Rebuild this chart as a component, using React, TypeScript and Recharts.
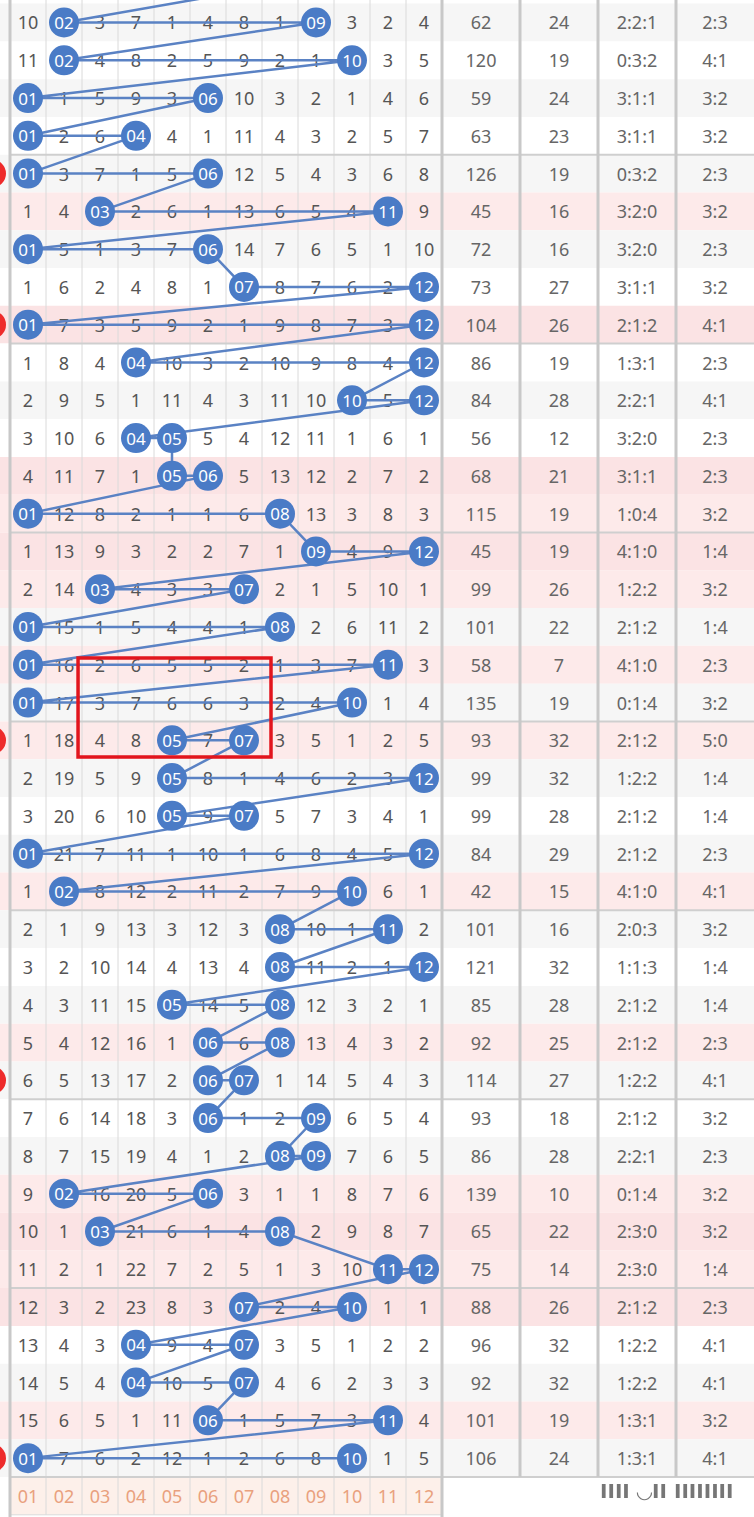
import React from "react";
import {
  ScatterChart,
  Scatter,
  XAxis,
  YAxis,
  ReferenceArea,
  ReferenceLine,
} from "recharts";

const FONT = "'Noto Sans', 'Open Sans', sans-serif";

const numbers = ["01", "02", "03", "04", "05", "06", "07", "08", "09", "10", "11", "12"];

// missed-draw counts per row, 0 = number drawn in that row
const omissions = [
  [10, 0, 3, 7, 1, 4, 8, 1, 0, 3, 2, 4],
  [11, 0, 4, 8, 2, 5, 9, 2, 1, 0, 3, 5],
  [0, 1, 5, 9, 3, 0, 10, 3, 2, 1, 4, 6],
  [0, 2, 6, 0, 4, 1, 11, 4, 3, 2, 5, 7],
  [0, 3, 7, 1, 5, 0, 12, 5, 4, 3, 6, 8],
  [1, 4, 0, 2, 6, 1, 13, 6, 5, 4, 0, 9],
  [0, 5, 1, 3, 7, 0, 14, 7, 6, 5, 1, 10],
  [1, 6, 2, 4, 8, 1, 0, 8, 7, 6, 2, 0],
  [0, 7, 3, 5, 9, 2, 1, 9, 8, 7, 3, 0],
  [1, 8, 4, 0, 10, 3, 2, 10, 9, 8, 4, 0],
  [2, 9, 5, 1, 11, 4, 3, 11, 10, 0, 5, 0],
  [3, 10, 6, 0, 0, 5, 4, 12, 11, 1, 6, 1],
  [4, 11, 7, 1, 0, 0, 5, 13, 12, 2, 7, 2],
  [0, 12, 8, 2, 1, 1, 6, 0, 13, 3, 8, 3],
  [1, 13, 9, 3, 2, 2, 7, 1, 0, 4, 9, 0],
  [2, 14, 0, 4, 3, 3, 0, 2, 1, 5, 10, 1],
  [0, 15, 1, 5, 4, 4, 1, 0, 2, 6, 11, 2],
  [0, 16, 2, 6, 5, 5, 2, 1, 3, 7, 0, 3],
  [0, 17, 3, 7, 6, 6, 3, 2, 4, 0, 1, 4],
  [1, 18, 4, 8, 0, 7, 0, 3, 5, 1, 2, 5],
  [2, 19, 5, 9, 0, 8, 1, 4, 6, 2, 3, 0],
  [3, 20, 6, 10, 0, 9, 0, 5, 7, 3, 4, 1],
  [0, 21, 7, 11, 1, 10, 1, 6, 8, 4, 5, 0],
  [1, 0, 8, 12, 2, 11, 2, 7, 9, 0, 6, 1],
  [2, 1, 9, 13, 3, 12, 3, 0, 10, 1, 0, 2],
  [3, 2, 10, 14, 4, 13, 4, 0, 11, 2, 1, 0],
  [4, 3, 11, 15, 0, 14, 5, 0, 12, 3, 2, 1],
  [5, 4, 12, 16, 1, 0, 6, 0, 13, 4, 3, 2],
  [6, 5, 13, 17, 2, 0, 0, 1, 14, 5, 4, 3],
  [7, 6, 14, 18, 3, 0, 1, 2, 0, 6, 5, 4],
  [8, 7, 15, 19, 4, 1, 2, 0, 0, 7, 6, 5],
  [9, 0, 16, 20, 5, 0, 3, 1, 1, 8, 7, 6],
  [10, 1, 0, 21, 6, 1, 4, 0, 2, 9, 8, 7],
  [11, 2, 1, 22, 7, 2, 5, 1, 3, 10, 0, 0],
  [12, 3, 2, 23, 8, 3, 0, 2, 4, 0, 1, 1],
  [13, 4, 3, 0, 9, 4, 0, 3, 5, 1, 2, 2],
  [14, 5, 4, 0, 10, 5, 0, 4, 6, 2, 3, 3],
  [15, 6, 5, 1, 11, 0, 1, 5, 7, 3, 0, 4],
  [0, 7, 6, 2, 12, 1, 2, 6, 8, 0, 1, 5],
];

const sums = [62, 120, 59, 63, 126, 45, 72, 73, 104, 86, 84, 56, 68, 115, 45, 99, 101, 58, 135, 93, 99, 99, 84, 42, 101, 121, 85, 92, 114, 93, 86, 139, 65, 75, 88, 96, 92, 101, 106];
const spans = [24, 19, 24, 23, 19, 16, 16, 27, 26, 19, 28, 12, 21, 19, 19, 26, 22, 7, 19, 32, 32, 28, 29, 15, 16, 32, 28, 25, 27, 18, 28, 10, 22, 14, 26, 32, 32, 19, 24];
const zoneRatio = ["2:2:1", "0:3:2", "3:1:1", "3:1:1", "0:3:2", "3:2:0", "3:2:0", "3:1:1", "2:1:2", "1:3:1", "2:2:1", "3:2:0", "3:1:1", "1:0:4", "4:1:0", "1:2:2", "2:1:2", "4:1:0", "0:1:4", "2:1:2", "1:2:2", "2:1:2", "2:1:2", "4:1:0", "2:0:3", "1:1:3", "2:1:2", "2:1:2", "1:2:2", "2:1:2", "2:2:1", "0:1:4", "2:3:0", "2:3:0", "2:1:2", "1:2:2", "1:2:2", "1:3:1", "1:3:1"];
const oddEven = ["2:3", "4:1", "3:2", "3:2", "2:3", "3:2", "2:3", "3:2", "4:1", "2:3", "4:1", "2:3", "2:3", "3:2", "1:4", "3:2", "1:4", "2:3", "3:2", "5:0", "1:4", "1:4", "2:3", "4:1", "3:2", "1:4", "1:4", "2:3", "4:1", "3:2", "2:3", "3:2", "3:2", "1:4", "2:3", "4:1", "4:1", "3:2", "4:1"];

const pinkRows = [6, 9, 13, 14, 15, 16, 18, 20, 24, 28, 32, 33, 34, 35, 38];
const redDotRows = [5, 9, 20, 29, 39];
// last ball of the row above the visible part
const prevBall = 8;

// layout
const W = 754;
const H = 1517;
const CELL = 36;
const STAT_W = 78 / CELL;
const ROW_H = 37.78;
const X0 = 0.5 - 10 / CELL;
const X1 = 12.5 + 4 * STAT_W;
const Y0 = -0.5 - 3.6 / ROW_H;
const Y1 = Y0 + H / ROW_H;
const N = omissions.length;
const statX = (k: number) => 12.5 + STAT_W * (k + 0.5);

const missData: any[] = [];
const ballData: any[] = [{ x: prevBall, y: -1 }];
omissions.forEach((row, r) => {
  row.forEach((v, i) => {
    if (v === 0) ballData.push({ x: i + 1, y: r });
    else missData.push({ x: i + 1, y: r, t: String(v) });
  });
});
const statData: any[] = [];
[sums, spans, zoneRatio, oddEven].forEach((col, k) =>
  col.forEach((v, r) => statData.push({ x: statX(k), y: r, t: String(v) }))
);
const footData = numbers.map((n, i) => ({ x: i + 1, y: N, t: n }));
const redData = redDotRows.map((r) => ({ x: 0, y: r - 1 }));

const rowFill = (r: number) => {
  const odd = (r + 1) % 2 === 1;
  if (pinkRows.includes(r + 1)) return odd ? "#fbe3e4" : "#fdeaea";
  return odd ? "#f6f6f6" : "#ffffff";
};

const textShape = (fill: string, size: number) => (p: any) => (
  <text
    x={p.cx}
    y={p.cy}
    textAnchor="middle"
    dominantBaseline="central"
    fontSize={size}
    fontFamily={FONT}
    fill={fill}
  >
    {p.payload.t}
  </text>
);

const BallShape = (p: any) => {
  if (p.payload.y < 0) return <g />;
  return (
    <g>
      <circle cx={p.cx} cy={p.cy} r={15} fill="#4a7bc6" />
      <text
        x={p.cx}
        y={p.cy}
        textAnchor="middle"
        dominantBaseline="central"
        fontSize={17}
        fontFamily={FONT}
        fill="#ffffff"
      >
        {numbers[p.payload.x - 1]}
      </text>
    </g>
  );
};

const RedDot = (p: any) => <circle cx={p.cx} cy={p.cy} r={14} fill="#ee2b2b" />;

export default function App() {
  const groupLines = [3.5, 8.5, 13.5, 18.5, 23.5, 28.5, 33.5, 38.5];
  return (
    <div style={{ width: W, height: H, overflow: "hidden", position: "relative", background: "#fff" }}>
      <style>{"body{margin:0}"}</style>
      <ScatterChart width={W} height={H} margin={{ top: 0, right: 0, bottom: 0, left: 0 }}>
        <XAxis type="number" dataKey="x" domain={[X0, X1]} hide allowDataOverflow />
        <YAxis type="number" dataKey="y" domain={[Y0, Y1]} reversed hide allowDataOverflow />

        {omissions.map((_, r) => (
          <ReferenceArea
            key={"bg" + r}
            x1={X0}
            x2={X1}
            y1={r - 0.5}
            y2={r + 0.5}
            fill={rowFill(r)}
            fillOpacity={1}
            stroke="none"
            ifOverflow="visible"
            zIndex={-200}
          />
        ))}
        <ReferenceArea
          x1={0.5}
          x2={12.5}
          y1={N - 0.5}
          y2={N + 0.5}
          fill="#fdf0ea"
          fillOpacity={1}
          stroke="none"
          ifOverflow="visible"
          zIndex={-200}
        />

        {numbers.slice(1).map((_, i) => (
          <ReferenceLine
            key={"v" + i}
            segment={[{ x: i + 1.5, y: Y0 }, { x: i + 1.5, y: N + 0.5 }]}
            stroke="#dadada"
            strokeWidth={1}
            ifOverflow="visible"
          />
        ))}
        {groupLines.map((y) => (
          <ReferenceLine
            key={"h" + y}
            segment={[{ x: 0.5, y }, { x: X1, y }]}
            stroke="#cfcfcf"
            strokeWidth={2}
            ifOverflow="visible"
          />
        ))}
        <ReferenceLine
          segment={[{ x: 0.5, y: N + 0.5 }, { x: 12.5, y: N + 0.5 }]}
          stroke="#dadada"
          strokeWidth={1}
          ifOverflow="visible"
        />
        {[1, 2, 3].map((k) => (
          <ReferenceLine
            key={"s" + k}
            segment={[{ x: 12.5 + k * STAT_W, y: Y0 }, { x: 12.5 + k * STAT_W, y: N - 0.5 }]}
            stroke="#c8c8c8"
            strokeWidth={3}
            ifOverflow="visible"
          />
        ))}
        <ReferenceLine
          segment={[{ x: 0.5, y: Y0 }, { x: 0.5, y: Y1 }]}
          stroke="#c8c8c8"
          strokeWidth={3}
          ifOverflow="visible"
        />
        <ReferenceLine
          segment={[{ x: 12.5, y: Y0 }, { x: 12.5, y: Y1 }]}
          stroke="#c8c8c8"
          strokeWidth={3}
          ifOverflow="visible"
        />

        <Scatter data={missData} shape={textShape("#555555", 18)} isAnimationActive={false} />
        <Scatter data={statData} shape={textShape("#666666", 18)} isAnimationActive={false} />
        <Scatter data={footData} shape={textShape("#e9a17e", 18)} isAnimationActive={false} />
        <Scatter data={redData} shape={RedDot} isAnimationActive={false} />
        <Scatter
          data={ballData}
          shape={BallShape}
          line={{ stroke: "#5a82c4", strokeWidth: 2.5 }}
          lineJointType="linear"
          isAnimationActive={false}
        />

        <ReferenceArea
          x1={2.39}
          x2={7.75}
          y1={16.82}
          y2={19.44}
          fill="none"
          fillOpacity={0}
          stroke="#e2151d"
          strokeWidth={3.5}
          ifOverflow="visible"
          zIndex={900}
        />
      </ScatterChart>
      <div
        style={{
          position: "absolute",
          left: 600,
          top: 1479,
          whiteSpace: "nowrap",
          fontFamily: "'DejaVu Sans', sans-serif",
          fontSize: 20,
          fontWeight: 700,
          color: "#555",
          letterSpacing: 0,
          filter: "blur(0.7px)",
          opacity: 0.8,
        }}
      >
        IIII ◡II IIIIIIII
      </div>
    </div>
  );
}
